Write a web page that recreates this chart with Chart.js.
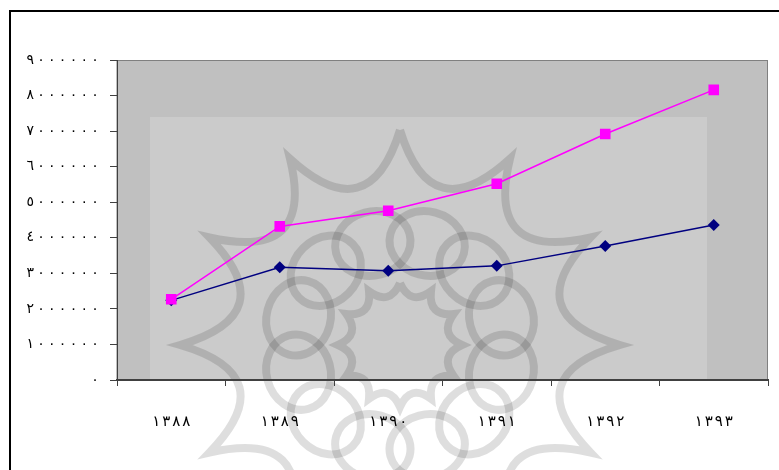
<!DOCTYPE html>
<html>
<head>
<meta charset="utf-8">
<script src="https://cdn.jsdelivr.net/npm/chart.js@4"></script>
<style>
	html, body { margin: 0; padding: 0; background: #fff; }
	#wrap { width: 779px; height: 470px; position: relative; }
</style>
</head>
<body>
<div id="wrap"><canvas id="c"></canvas></div>
<script>
const years = ['۱۳۸۸', '۱۳۸۹', '۱۳۹۰', '۱۳۹۱', '۱۳۹۲', '۱۳۹۳'];
const pinkValues = [2270000, 4320000, 4760000, 5520000, 6920000, 8160000];
const navyValues = [2240000, 3170000, 3070000, 3210000, 3770000, 4360000];
const arabicDigits = ['٠', '١', '٢', '٣', '٤', '٥', '٦', '٧', '٨', '٩'];

function toArabic(n) {
	return String(n).split('').map(d => arabicDigits[+d] || d).join('');
}

const font = '"Times New Roman", "Liberation Serif", "DejaVu Sans", serif';

// draws a label one digit at a time, so the digits get the wide spacing of the original
function spacedText(ctx, text, x, y, step, align) {
	const chars = Array.from(text);
	const w = step * (chars.length - 1);
	let start = align === 'right' ? x - w : x - w / 2;
	chars.forEach((ch, i) => ctx.fillText(ch, start + i * step, y));
}

// page frame, plot background and the faded logo behind the chart
const backdrop = {
	id: 'backdrop',
	beforeDraw(chart) {
		const ctx = chart.ctx;
		const a = chart.chartArea;
		ctx.save();
		ctx.fillStyle = '#c0c0c0';
		ctx.fillRect(a.left, a.top, a.right - a.left, a.bottom - a.top);
		ctx.fillStyle = '#cbcbcb';
		ctx.fillRect(150, 117, 557, a.bottom - 117);

		// logo
		const cx = 400, cy = 345;
		ctx.beginPath();
		ctx.rect(0, 117, 779, 353);
		ctx.clip();
		ctx.strokeStyle = 'rgba(0,0,0,0.13)';
		ctx.lineWidth = 8;
		for (let i = 0; i < 12; i++) {
			const t = i * Math.PI / 6 + Math.PI / 12;
			ctx.beginPath();
			ctx.ellipse(cx + Math.cos(t) * 105, cy + Math.sin(t) * 105, 32, 38, t, 0, Math.PI * 2);
			ctx.stroke();
		}
		ctx.beginPath();
		for (let i = 0; i <= 12; i++) {
			const t = i * Math.PI / 6 - Math.PI / 2;
			const px = cx + Math.cos(t) * 220, py = cy + Math.sin(t) * 215;
			if (i === 0) ctx.moveTo(px, py);
			else {
				const m = t - Math.PI / 12;
				ctx.quadraticCurveTo(cx + Math.cos(m) * 120, cy + Math.sin(m) * 118, px, py);
			}
		}
		ctx.stroke();
		ctx.beginPath();
		for (let i = 0; i <= 12; i++) {
			const t = i * Math.PI / 6 - Math.PI / 2;
			const px = cx + Math.cos(t) * 62, py = cy + Math.sin(t) * 62;
			if (i === 0) ctx.moveTo(px, py);
			else {
				const m = t - Math.PI / 12;
				ctx.quadraticCurveTo(cx + Math.cos(m) * 40, cy + Math.sin(m) * 40, px, py);
			}
		}
		ctx.stroke();
		ctx.restore();

		ctx.save();
		ctx.strokeStyle = '#000';
		ctx.lineWidth = 2;
		ctx.beginPath();
		ctx.moveTo(10, 470);
		ctx.lineTo(10, 11);
		ctx.lineTo(779, 11);
		ctx.stroke();
		ctx.strokeStyle = '#808080';
		ctx.lineWidth = 1;
		ctx.strokeRect(a.left, a.top + 0.5, a.right - a.left - 0.5, a.bottom - a.top);
		ctx.restore();
	},
	afterDraw(chart) {
		const ctx = chart.ctx;
		const xs = chart.scales.x, ys = chart.scales.y;
		ctx.save();
		ctx.fillStyle = '#000';
		ctx.textAlign = 'center';
		ctx.textBaseline = 'middle';
		ctx.font = '14px ' + font;
		ys.ticks.forEach(t => {
			spacedText(ctx, toArabic(t.value), 95, ys.getPixelForValue(t.value), 10.8, 'right');
		});
		ctx.font = '15px ' + font;
		years.forEach((lab, i) => {
			spacedText(ctx, lab, xs.getPixelForValue(i), 422, 10, 'center');
		});
		ctx.restore();
	}
};

new Chart(document.getElementById('c'), {
	type: 'line',
	data: {
		labels: years,
		datasets: [{
				label: 'series2',
				data: pinkValues,
				borderColor: '#ff00ff',
				backgroundColor: '#ff00ff',
				borderWidth: 1.5,
				pointStyle: 'rect',
				pointRadius: 7.5,
				pointBorderWidth: 0,
				tension: 0
			},
			{
				label: 'series1',
				data: navyValues,
				borderColor: '#000080',
				backgroundColor: '#000080',
				borderWidth: 1.5,
				pointStyle: 'rectRot',
				pointRadius: 6,
				pointBorderWidth: 0,
				tension: 0
			}
		]
	},
	options: {
		responsive: true,
		maintainAspectRatio: false,
		animation: false,
		layout: {
			padding: { left: 0, right: 11, top: 60, bottom: 0 }
		},
		scales: {
			x: {
				offset: true,
				grid: {
					offset: true,
					drawOnChartArea: false,
					drawTicks: true,
					tickLength: 6,
					color: '#404040'
				},
				border: { color: '#404040', width: 2 },
				ticks: { display: false },
				afterFit(scale) { scale.height = 90; }
			},
			y: {
				min: 0,
				max: 9000000,
				grid: {
					drawOnChartArea: false,
					drawTicks: true,
					tickLength: 7,
					color: '#404040'
				},
				border: { color: '#404040', width: 1 },
				ticks: {
					display: false,
					stepSize: 1000000
				},
				afterFit(scale) { scale.width = 117; }
			}
		},
		plugins: {
			legend: { display: false },
			title: { display: false },
			tooltip: { enabled: false }
		}
	},
	plugins: [backdrop]
});
</script>
</body>
</html>
